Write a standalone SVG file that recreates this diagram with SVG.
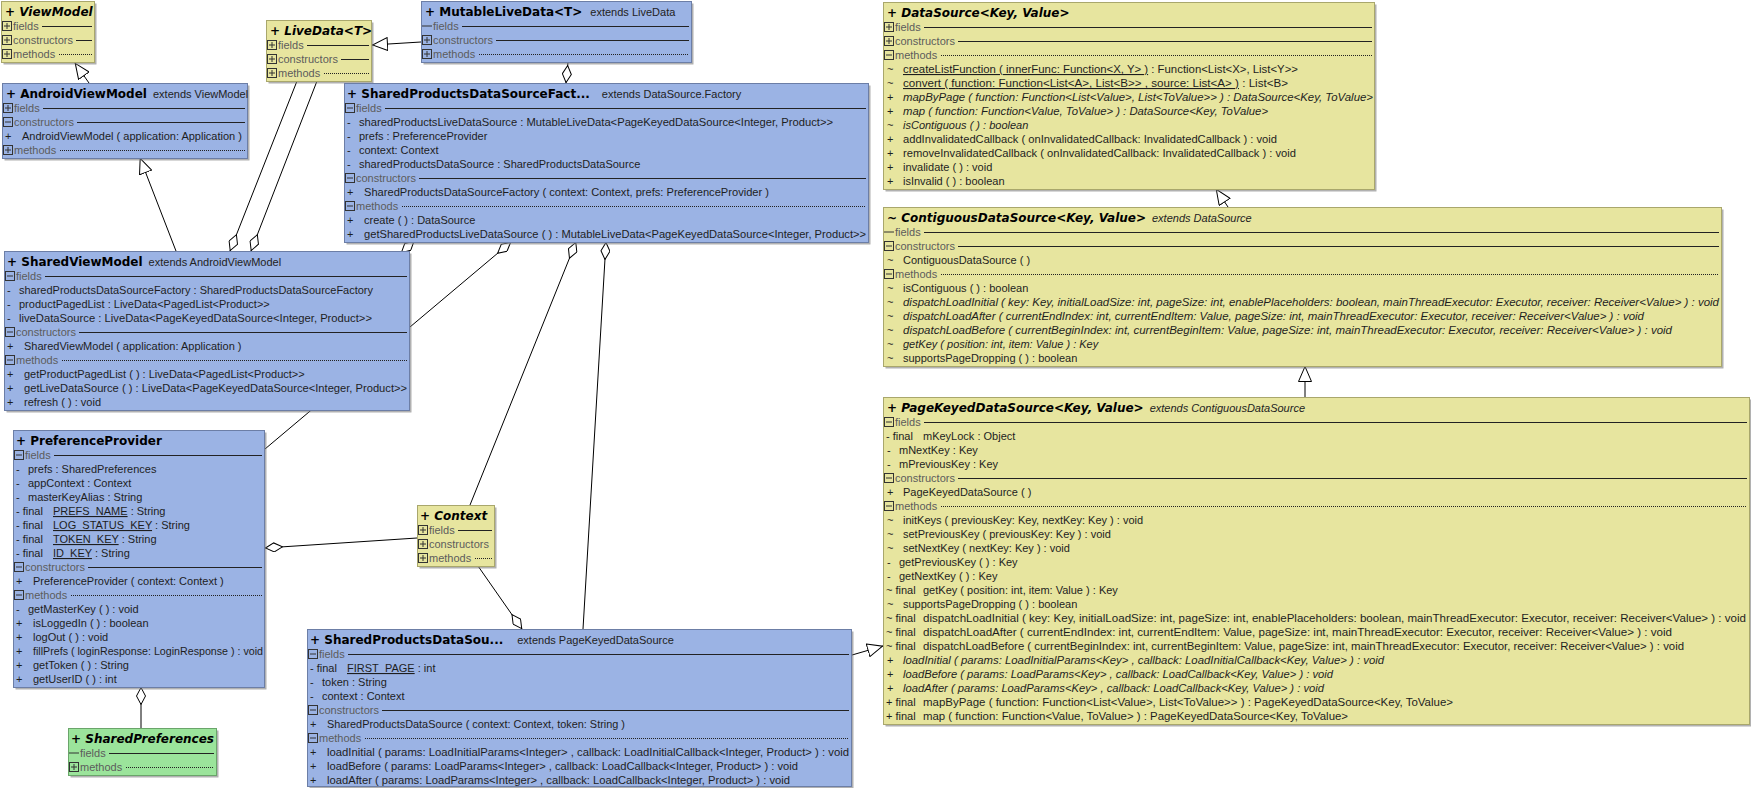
<svg xmlns="http://www.w3.org/2000/svg" xmlns:xlink="http://www.w3.org/1999/xlink" width="1751" height="788" viewBox="0 0 1751 788">
<defs>
<style>
.bl{fill:#9bb3e4;stroke:#6c7ea6}
.ye{fill:#e7e59f;stroke:#a9a76c}
.gr{fill:#9be49b;stroke:#6aa56a}
.sh{fill:#7d7d7d;opacity:.6}
.t{font-family:"DejaVu Sans",sans-serif;font-weight:bold;font-size:12px;fill:#000}
.ti{font-style:italic}
.x{font-family:"Liberation Sans",Arial,sans-serif;font-weight:normal;font-size:11px;fill:#222}
.m{font-family:"Liberation Sans",Arial,sans-serif;font-size:11px;fill:#1e1e1e}
.i{font-style:italic}
.s{font-family:"Liberation Sans",Arial,sans-serif;font-size:11px;fill:#5c5c5c}
.sep{stroke:#222;stroke-width:1;fill:none}
.dot{stroke:#222;stroke-width:1;stroke-dasharray:1 1;fill:none}
.u{text-decoration:underline}
.c{stroke:#000;stroke-width:1;fill:none}
</style>
<g id="ip"><rect x="0.5" y="0.5" width="9" height="9" fill="none" stroke="#333"/><path d="M2 5H8M5 2V8" stroke="#333"/></g>
<g id="im"><rect x="0.5" y="0.5" width="9" height="9" fill="none" stroke="#333"/><path d="M2 5H8" stroke="#333"/></g>
<g id="ie"><path d="M0 5H10" stroke="#333"/></g>
<marker id="tri" viewBox="0 0 16 14" refX="16" refY="7" markerWidth="16" markerHeight="14" markerUnits="userSpaceOnUse" orient="auto"><path d="M0.5,0.5 L15.5,7 L0.5,13.5 Z" fill="#fff" stroke="#000"/></marker>
<marker id="dia" viewBox="0 0 18 10" refX="0" refY="5" markerWidth="18" markerHeight="10" markerUnits="userSpaceOnUse" orient="auto"><path d="M0.5,5 L9,0.5 L17.5,5 L9,9.5 Z" fill="#fff" stroke="#000"/></marker>
</defs>
<rect width="1751" height="788" fill="#fff"/>

<g id="connectors">
<path class="c" d="M89,83 L75,63" marker-end="url(#tri)"/>
<path class="c" d="M176,251 L140,158" marker-end="url(#tri)"/>
<path class="c" d="M421,42 L372,45" marker-end="url(#tri)"/>
<path class="c" d="M566,83 L568,62" marker-start="url(#dia)"/>
<path class="c" d="M230,251 L297,81" marker-start="url(#dia)"/>
<path class="c" d="M251,251 L317,81" marker-start="url(#dia)"/>
<path class="c" d="M401,253 L421,235" marker-start="url(#dia)"/>
<path class="c" d="M511,242 L265,449" marker-start="url(#dia)"/>
<path class="c" d="M576,242 L470,505" marker-start="url(#dia)"/>
<path class="c" d="M606,242 L583,629" marker-start="url(#dia)"/>
<path class="c" d="M265,548 L417,538" marker-start="url(#dia)"/>
<path class="c" d="M522,629 L478,566" marker-start="url(#dia)"/>
<path class="c" d="M141,687 L141,728" marker-start="url(#dia)"/>
<path class="c" d="M852,655 L883,646" marker-end="url(#tri)"/>
<path class="c" d="M1228,207 L1216,189" marker-end="url(#tri)"/>
<path class="c" d="M1305,397 L1305,366" marker-end="url(#tri)"/>
</g>

<g id="ViewModel">
<rect class="sh" x="3.5" y="3.5" width="93" height="61"/>
<rect class="ye" x="1.5" y="1.5" width="93" height="61"/>
<text class="t ti" x="5" y="16">+ ViewModel</text>
<use href="#ip" x="2" y="21"/><text class="s" x="13" y="30">fields</text><path class="sep" d="M42 26.5H92"/>
<use href="#ip" x="2" y="35"/><text class="s" x="13" y="44">constructors</text><path class="sep" d="M76 40.5H92"/>
<use href="#ip" x="2" y="49"/><text class="s" x="13" y="58">methods</text><path class="dot" d="M59 54.5H92"/>
</g>

<g id="LiveData">
<rect class="sh" x="268.5" y="22.5" width="105" height="61"/>
<rect class="ye" x="266.5" y="20.5" width="105" height="61"/>
<text class="t ti" x="270" y="35">+ LiveData&lt;T&gt;</text>
<use href="#ip" x="267" y="40"/><text class="s" x="278" y="49">fields</text><path class="sep" d="M307 45.5H369"/>
<use href="#ip" x="267" y="54"/><text class="s" x="278" y="63">constructors</text><path class="sep" d="M341 59.5H369"/>
<use href="#ip" x="267" y="68"/><text class="s" x="278" y="77">methods</text><path class="dot" d="M324 73.5H369"/>
</g>

<g id="MutableLiveData">
<rect class="sh" x="423.5" y="3.5" width="270" height="61"/>
<rect class="bl" x="421.5" y="1.5" width="270" height="61"/>
<text class="t" x="425" y="16"><tspan>+ MutableLiveData&lt;T&gt;</tspan><tspan class="x" dx="8">extends LiveData</tspan></text>
<use href="#ie" x="422" y="21"/><text class="s" x="433" y="30">fields</text><path class="sep" d="M462 26.5H689"/>
<use href="#ip" x="422" y="35"/><text class="s" x="433" y="44">constructors</text><path class="sep" d="M496 40.5H689"/>
<use href="#ip" x="422" y="49"/><text class="s" x="433" y="58">methods</text><path class="dot" d="M479 54.5H689"/>
</g>

<g id="AndroidViewModel">
<rect class="sh" x="4.5" y="85.5" width="245" height="75"/>
<rect class="bl" x="2.5" y="83.5" width="245" height="75"/>
<text class="t" x="6" y="98"><tspan>+ AndroidViewModel</tspan><tspan class="x" dx="6">extends ViewModel</tspan></text>
<use href="#ip" x="3" y="103"/><text class="s" x="14" y="112">fields</text><path class="sep" d="M43 108.5H245"/>
<use href="#im" x="3" y="117"/><text class="s" x="14" y="126">constructors</text><path class="sep" d="M77 122.5H245"/>
<text class="m" x="5" y="140">+</text><text class="m" x="22" y="140">AndroidViewModel ( application: Application )</text>
<use href="#ip" x="3" y="145"/><text class="s" x="14" y="154">methods</text><path class="dot" d="M60 150.5H245"/>
</g>

<g id="SharedProductsDataSourceFactory">
<rect class="sh" x="346.5" y="85.5" width="524" height="159"/>
<rect class="bl" x="344.5" y="83.5" width="524" height="159"/>
<text class="t" x="347" y="98"><tspan>+ SharedProductsDataSourceFact...</tspan><tspan class="x" dx="12">extends DataSource.Factory</tspan></text>
<use href="#im" x="345" y="103"/><text class="s" x="356" y="112">fields</text><path class="sep" d="M385 108.5H866"/>
<text class="m" x="347" y="126">-</text><text class="m" x="359" y="126" textLength="474" lengthAdjust="spacingAndGlyphs">sharedProductsLiveDataSource : MutableLiveData&lt;PageKeyedDataSource&lt;Integer, Product&gt;&gt;</text>
<text class="m" x="347" y="140">-</text><text class="m" x="359" y="140">prefs : PreferenceProvider</text>
<text class="m" x="347" y="154">-</text><text class="m" x="359" y="154">context: Context</text>
<text class="m" x="347" y="168">-</text><text class="m" x="359" y="168">sharedProductsDataSource : SharedProductsDataSource</text>
<use href="#im" x="345" y="173"/><text class="s" x="356" y="182">constructors</text><path class="sep" d="M419 178.5H866"/>
<text class="m" x="347" y="196">+</text><text class="m" x="364" y="196" textLength="405" lengthAdjust="spacingAndGlyphs">SharedProductsDataSourceFactory ( context: Context,  prefs: PreferenceProvider )</text>
<use href="#im" x="345" y="201"/><text class="s" x="356" y="210">methods</text><path class="dot" d="M402 206.5H866"/>
<text class="m" x="347" y="224">+</text><text class="m" x="364" y="224">create ( ) : DataSource</text>
<text class="m" x="347" y="238">+</text><text class="m" x="364" y="238" textLength="502" lengthAdjust="spacingAndGlyphs">getSharedProductsLiveDataSource ( ) : MutableLiveData&lt;PageKeyedDataSource&lt;Integer, Product&gt;&gt;</text>
</g>

<g id="SharedViewModel">
<rect class="sh" x="6.5" y="253.5" width="405" height="159"/>
<rect class="bl" x="4.5" y="251.5" width="405" height="159"/>
<text class="t" x="7" y="266"><tspan>+ SharedViewModel</tspan><tspan class="x" dx="6">extends AndroidViewModel</tspan></text>
<use href="#im" x="5" y="271"/><text class="s" x="16" y="280">fields</text><path class="sep" d="M45 276.5H407"/>
<text class="m" x="7" y="294">-</text><text class="m" x="19" y="294" textLength="354" lengthAdjust="spacingAndGlyphs">sharedProductsDataSourceFactory : SharedProductsDataSourceFactory</text>
<text class="m" x="7" y="308">-</text><text class="m" x="19" y="308">productPagedList : LiveData&lt;PagedList&lt;Product&gt;&gt;</text>
<text class="m" x="7" y="322">-</text><text class="m" x="19" y="322" textLength="353" lengthAdjust="spacingAndGlyphs">liveDataSource : LiveData&lt;PageKeyedDataSource&lt;Integer, Product&gt;&gt;</text>
<use href="#im" x="5" y="327"/><text class="s" x="16" y="336">constructors</text><path class="sep" d="M79 332.5H407"/>
<text class="m" x="7" y="350">+</text><text class="m" x="24" y="350">SharedViewModel ( application: Application )</text>
<use href="#im" x="5" y="355"/><text class="s" x="16" y="364">methods</text><path class="dot" d="M62 360.5H407"/>
<text class="m" x="7" y="378">+</text><text class="m" x="24" y="378">getProductPagedList ( ) : LiveData&lt;PagedList&lt;Product&gt;&gt;</text>
<text class="m" x="7" y="392">+</text><text class="m" x="24" y="392" textLength="383" lengthAdjust="spacingAndGlyphs">getLiveDataSource ( ) : LiveData&lt;PageKeyedDataSource&lt;Integer, Product&gt;&gt;</text>
<text class="m" x="7" y="406">+</text><text class="m" x="24" y="406">refresh ( ) : void</text>
</g>

<g id="PreferenceProvider">
<rect class="sh" x="15.5" y="432.5" width="251" height="257"/>
<rect class="bl" x="13.5" y="430.5" width="251" height="257"/>
<text class="t" x="16" y="445">+ PreferenceProvider</text>
<use href="#im" x="14" y="450"/><text class="s" x="25" y="459">fields</text><path class="sep" d="M54 455.5H262"/>
<text class="m" x="16" y="473">-</text><text class="m" x="28" y="473">prefs : SharedPreferences</text>
<text class="m" x="16" y="487">-</text><text class="m" x="28" y="487">appContext : Context</text>
<text class="m" x="16" y="501">-</text><text class="m" x="28" y="501">masterKeyAlias : String</text>
<text class="m" x="16" y="515">- final</text><text class="m" x="53" y="515"><tspan class="u">PREFS_NAME</tspan> : String</text>
<text class="m" x="16" y="529">- final</text><text class="m" x="53" y="529"><tspan class="u">LOG_STATUS_KEY</tspan> : String</text>
<text class="m" x="16" y="543">- final</text><text class="m" x="53" y="543"><tspan class="u">TOKEN_KEY</tspan> : String</text>
<text class="m" x="16" y="557">- final</text><text class="m" x="53" y="557"><tspan class="u">ID_KEY</tspan> : String</text>
<use href="#im" x="14" y="562"/><text class="s" x="25" y="571">constructors</text><path class="sep" d="M88 567.5H262"/>
<text class="m" x="16" y="585">+</text><text class="m" x="33" y="585">PreferenceProvider ( context: Context )</text>
<use href="#im" x="14" y="590"/><text class="s" x="25" y="599">methods</text><path class="dot" d="M71 595.5H262"/>
<text class="m" x="16" y="613">-</text><text class="m" x="28" y="613">getMasterKey ( ) : void</text>
<text class="m" x="16" y="627">+</text><text class="m" x="33" y="627">isLoggedIn ( ) : boolean</text>
<text class="m" x="16" y="641">+</text><text class="m" x="33" y="641">logOut ( ) : void</text>
<text class="m" x="16" y="655">+</text><text class="m" x="33" y="655" textLength="230" lengthAdjust="spacingAndGlyphs">fillPrefs ( loginResponse: LoginResponse ) : void</text>
<text class="m" x="16" y="669">+</text><text class="m" x="33" y="669">getToken ( ) : String</text>
<text class="m" x="16" y="683">+</text><text class="m" x="33" y="683">getUserID ( ) : int</text>
</g>

<g id="SharedPreferences">
<rect class="sh" x="70.5" y="730.5" width="148" height="47"/>
<rect class="gr" x="68.5" y="728.5" width="148" height="47"/>
<text class="t ti" x="71" y="743">+ SharedPreferences</text>
<use href="#ie" x="69" y="748"/><text class="s" x="80" y="757">fields</text><path class="sep" d="M109 753.5H214"/>
<use href="#ip" x="69" y="762"/><text class="s" x="80" y="771">methods</text><path class="dot" d="M126 767.5H214"/>
</g>

<g id="Context">
<rect class="sh" x="419.5" y="507.5" width="77" height="61"/>
<rect class="ye" x="417.5" y="505.5" width="77" height="61"/>
<text class="t ti" x="420" y="520">+ Context</text>
<use href="#ip" x="418" y="525"/><text class="s" x="429" y="534">fields</text><path class="sep" d="M458 530.5H492"/>
<use href="#ip" x="418" y="539"/><text class="s" x="429" y="548">constructors</text>
<use href="#ip" x="418" y="553"/><text class="s" x="429" y="562">methods</text><path class="dot" d="M475 558.5H492"/>
</g>

<g id="SharedProductsDataSource">
<rect class="sh" x="309.5" y="631.5" width="544" height="158"/>
<rect class="bl" x="307.5" y="629.5" width="544" height="157"/>
<text class="t" x="310" y="644"><tspan>+ SharedProductsDataSou...</tspan><tspan class="x" dx="14">extends PageKeyedDataSource</tspan></text>
<use href="#im" x="308" y="649"/><text class="s" x="319" y="658">fields</text><path class="sep" d="M348 654.5H849"/>
<text class="m" x="310" y="672">- final</text><text class="m" x="347" y="672"><tspan class="u">FIRST_PAGE</tspan> : int</text>
<text class="m" x="310" y="686">-</text><text class="m" x="322" y="686">token : String</text>
<text class="m" x="310" y="700">-</text><text class="m" x="322" y="700">context : Context</text>
<use href="#im" x="308" y="705"/><text class="s" x="319" y="714">constructors</text><path class="sep" d="M382 710.5H849"/>
<text class="m" x="310" y="728">+</text><text class="m" x="327" y="728" textLength="298" lengthAdjust="spacingAndGlyphs">SharedProductsDataSource ( context: Context,  token: String )</text>
<use href="#im" x="308" y="733"/><text class="s" x="319" y="742">methods</text><path class="dot" d="M365 738.5H849"/>
<text class="m" x="310" y="756">+</text><text class="m" x="327" y="756" textLength="522" lengthAdjust="spacingAndGlyphs">loadInitial ( params: LoadInitialParams&lt;Integer&gt; ,  callback: LoadInitialCallback&lt;Integer, Product&gt; ) : void</text>
<text class="m" x="310" y="770">+</text><text class="m" x="327" y="770" textLength="471" lengthAdjust="spacingAndGlyphs">loadBefore ( params: LoadParams&lt;Integer&gt; ,  callback: LoadCallback&lt;Integer, Product&gt; ) : void</text>
<text class="m" x="310" y="784">+</text><text class="m" x="327" y="784" textLength="463" lengthAdjust="spacingAndGlyphs">loadAfter ( params: LoadParams&lt;Integer&gt; ,  callback: LoadCallback&lt;Integer, Product&gt; ) : void</text>
</g>

<g id="DataSource">
<rect class="sh" x="885.5" y="4.5" width="491" height="187"/>
<rect class="ye" x="883.5" y="2.5" width="491" height="187"/>
<text class="t ti" x="887" y="17">+ DataSource&lt;Key, Value&gt;</text>
<use href="#ip" x="884" y="22"/><text class="s" x="895" y="31">fields</text><path class="sep" d="M924 27.5H1372"/>
<use href="#ip" x="884" y="36"/><text class="s" x="895" y="45">constructors</text><path class="sep" d="M958 41.5H1372"/>
<use href="#im" x="884" y="50"/><text class="s" x="895" y="59">methods</text><path class="dot" d="M941 55.5H1372"/>
<text class="m" x="887" y="73">~</text><text class="m" x="903" y="73" textLength="395" lengthAdjust="spacingAndGlyphs"><tspan class="u">createListFunction ( innerFunc: Function&lt;X, Y&gt; )</tspan> : Function&lt;List&lt;X&gt;, List&lt;Y&gt;&gt;</text>
<text class="m" x="887" y="87">~</text><text class="m" x="903" y="87" textLength="385" lengthAdjust="spacingAndGlyphs"><tspan class="u">convert ( function: Function&lt;List&lt;A&gt;, List&lt;B&gt;&gt; ,  source: List&lt;A&gt; )</tspan> : List&lt;B&gt;</text>
<text class="m" x="887" y="101">+</text><text class="m i" x="903" y="101" textLength="470" lengthAdjust="spacingAndGlyphs">mapByPage ( function: Function&lt;List&lt;Value&gt;, List&lt;ToValue&gt;&gt; ) : DataSource&lt;Key, ToValue&gt;</text>
<text class="m" x="887" y="115">+</text><text class="m i" x="903" y="115" textLength="365" lengthAdjust="spacingAndGlyphs">map ( function: Function&lt;Value, ToValue&gt; ) : DataSource&lt;Key, ToValue&gt;</text>
<text class="m" x="887" y="129">~</text><text class="m i" x="903" y="129">isContiguous ( ) : boolean</text>
<text class="m" x="887" y="143">+</text><text class="m" x="903" y="143" textLength="374" lengthAdjust="spacingAndGlyphs">addInvalidatedCallback ( onInvalidatedCallback: InvalidatedCallback ) : void</text>
<text class="m" x="887" y="157">+</text><text class="m" x="903" y="157" textLength="393" lengthAdjust="spacingAndGlyphs">removeInvalidatedCallback ( onInvalidatedCallback: InvalidatedCallback ) : void</text>
<text class="m" x="887" y="171">+</text><text class="m" x="903" y="171">invalidate ( ) : void</text>
<text class="m" x="887" y="185">+</text><text class="m" x="903" y="185">isInvalid ( ) : boolean</text>
</g>

<g id="ContiguousDataSource">
<rect class="sh" x="885.5" y="209.5" width="838" height="159"/>
<rect class="ye" x="883.5" y="207.5" width="838" height="159"/>
<text class="t ti" x="887" y="222"><tspan>~ ContiguousDataSource&lt;Key, Value&gt;</tspan><tspan class="x i" dx="6">extends DataSource</tspan></text>
<use href="#ie" x="884" y="227"/><text class="s" x="895" y="236">fields</text><path class="sep" d="M924 232.5H1719"/>
<use href="#im" x="884" y="241"/><text class="s" x="895" y="250">constructors</text><path class="sep" d="M958 246.5H1719"/>
<text class="m" x="887" y="264">~</text><text class="m" x="903" y="264">ContiguousDataSource ( )</text>
<use href="#im" x="884" y="269"/><text class="s" x="895" y="278">methods</text><path class="dot" d="M941 274.5H1719"/>
<text class="m" x="887" y="292">~</text><text class="m" x="903" y="292">isContiguous ( ) : boolean</text>
<text class="m" x="887" y="306">~</text><text class="m i" x="903" y="306" textLength="816" lengthAdjust="spacingAndGlyphs">dispatchLoadInitial ( key: Key,  initialLoadSize: int,  pageSize: int,  enablePlaceholders: boolean,  mainThreadExecutor: Executor,  receiver: Receiver&lt;Value&gt; ) : void</text>
<text class="m" x="887" y="320">~</text><text class="m i" x="903" y="320" textLength="741" lengthAdjust="spacingAndGlyphs">dispatchLoadAfter ( currentEndIndex: int,  currentEndItem: Value,  pageSize: int,  mainThreadExecutor: Executor,  receiver: Receiver&lt;Value&gt; ) : void</text>
<text class="m" x="887" y="334">~</text><text class="m i" x="903" y="334" textLength="769" lengthAdjust="spacingAndGlyphs">dispatchLoadBefore ( currentBeginIndex: int,  currentBeginItem: Value,  pageSize: int,  mainThreadExecutor: Executor,  receiver: Receiver&lt;Value&gt; ) : void</text>
<text class="m" x="887" y="348">~</text><text class="m i" x="903" y="348">getKey ( position: int,  item: Value ) : Key</text>
<text class="m" x="887" y="362">~</text><text class="m" x="903" y="362">supportsPageDropping ( ) : boolean</text>
</g>

<g id="PageKeyedDataSource">
<rect class="sh" x="885.5" y="399.5" width="866" height="327"/>
<rect class="ye" x="883.5" y="397.5" width="866" height="327"/>
<text class="t ti" x="887" y="412"><tspan>+ PageKeyedDataSource&lt;Key, Value&gt;</tspan><tspan class="x i" dx="6">extends ContiguousDataSource</tspan></text>
<use href="#im" x="884" y="417"/><text class="s" x="895" y="426">fields</text><path class="sep" d="M924 422.5H1747"/>
<text class="m" x="886" y="440">- final</text><text class="m" x="923" y="440">mKeyLock : Object</text>
<text class="m" x="887" y="454">-</text><text class="m" x="899" y="454">mNextKey : Key</text>
<text class="m" x="887" y="468">-</text><text class="m" x="899" y="468">mPreviousKey : Key</text>
<use href="#im" x="884" y="473"/><text class="s" x="895" y="482">constructors</text><path class="sep" d="M958 478.5H1747"/>
<text class="m" x="887" y="496">+</text><text class="m" x="903" y="496">PageKeyedDataSource ( )</text>
<use href="#im" x="884" y="501"/><text class="s" x="895" y="510">methods</text><path class="dot" d="M941 506.5H1747"/>
<text class="m" x="887" y="524">~</text><text class="m" x="903" y="524">initKeys ( previousKey: Key,  nextKey: Key ) : void</text>
<text class="m" x="887" y="538">~</text><text class="m" x="903" y="538">setPreviousKey ( previousKey: Key ) : void</text>
<text class="m" x="887" y="552">~</text><text class="m" x="903" y="552">setNextKey ( nextKey: Key ) : void</text>
<text class="m" x="887" y="566">-</text><text class="m" x="899" y="566">getPreviousKey ( ) : Key</text>
<text class="m" x="887" y="580">-</text><text class="m" x="899" y="580">getNextKey ( ) : Key</text>
<text class="m" x="886" y="594">~ final</text><text class="m" x="923" y="594">getKey ( position: int,  item: Value ) : Key</text>
<text class="m" x="887" y="608">~</text><text class="m" x="903" y="608">supportsPageDropping ( ) : boolean</text>
<text class="m" x="886" y="622">~ final</text><text class="m" x="923" y="622" textLength="823" lengthAdjust="spacingAndGlyphs">dispatchLoadInitial ( key: Key,  initialLoadSize: int,  pageSize: int,  enablePlaceholders: boolean,  mainThreadExecutor: Executor,  receiver: Receiver&lt;Value&gt; ) : void</text>
<text class="m" x="886" y="636">~ final</text><text class="m" x="923" y="636" textLength="749" lengthAdjust="spacingAndGlyphs">dispatchLoadAfter ( currentEndIndex: int,  currentEndItem: Value,  pageSize: int,  mainThreadExecutor: Executor,  receiver: Receiver&lt;Value&gt; ) : void</text>
<text class="m" x="886" y="650">~ final</text><text class="m" x="923" y="650" textLength="761" lengthAdjust="spacingAndGlyphs">dispatchLoadBefore ( currentBeginIndex: int,  currentBeginItem: Value,  pageSize: int,  mainThreadExecutor: Executor,  receiver: Receiver&lt;Value&gt; ) : void</text>
<text class="m" x="887" y="664">+</text><text class="m i" x="903" y="664" textLength="481" lengthAdjust="spacingAndGlyphs">loadInitial ( params: LoadInitialParams&lt;Key&gt; ,  callback: LoadInitialCallback&lt;Key, Value&gt; ) : void</text>
<text class="m" x="887" y="678">+</text><text class="m i" x="903" y="678" textLength="430" lengthAdjust="spacingAndGlyphs">loadBefore ( params: LoadParams&lt;Key&gt; ,  callback: LoadCallback&lt;Key, Value&gt; ) : void</text>
<text class="m" x="887" y="692">+</text><text class="m i" x="903" y="692" textLength="421" lengthAdjust="spacingAndGlyphs">loadAfter ( params: LoadParams&lt;Key&gt; ,  callback: LoadCallback&lt;Key, Value&gt; ) : void</text>
<text class="m" x="886" y="706">+ final</text><text class="m" x="923" y="706" textLength="530" lengthAdjust="spacingAndGlyphs">mapByPage ( function: Function&lt;List&lt;Value&gt;, List&lt;ToValue&gt;&gt; ) : PageKeyedDataSource&lt;Key, ToValue&gt;</text>
<text class="m" x="886" y="720">+ final</text><text class="m" x="923" y="720" textLength="425" lengthAdjust="spacingAndGlyphs">map ( function: Function&lt;Value, ToValue&gt; ) : PageKeyedDataSource&lt;Key, ToValue&gt;</text>
</g>
</svg>
